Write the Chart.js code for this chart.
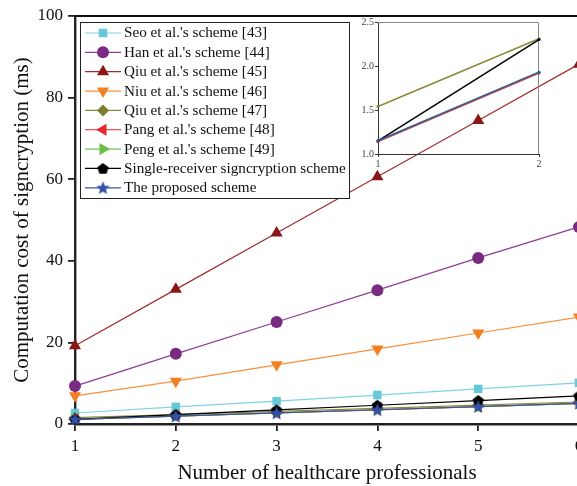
<!DOCTYPE html>
<html>
<head>
<meta charset="utf-8">
<script src="https://cdn.jsdelivr.net/npm/chart.js@4.4.0/dist/chart.umd.min.js"></script>
<style>
  html, body { margin: 0; padding: 0; background: #fff; overflow: hidden; }
  #wrap { position: relative; width: 577px; height: 486px; overflow: hidden; }
  #main { position: absolute; left: 0; top: 0; }
  #inset { position: absolute; left: 340px; top: 10px; }
</style>
</head>
<body>
<div id="wrap">
  <canvas id="main" width="600" height="486"></canvas>
  <canvas id="inset" width="210" height="165"></canvas>
</div>
<script>
// Data
const xLabels = ['1', '2', '3', '4', '5', '6'];
const seo = [2.7, 4.2, 5.6, 7.1, 8.6, 10.1];
const han = [9.3, 17.2, 25.0, 32.8, 40.7, 48.3];
const qiu45 = [19.2, 33.0, 46.8, 60.6, 74.4, 88.2];
const niu = [6.9, 10.5, 14.5, 18.4, 22.3, 26.2];
const qiu47 = [1.54, 2.31, 3.08, 3.85, 4.62, 5.39];
const pang = [1.14, 1.92, 2.70, 3.48, 4.26, 5.04];
const peng = [1.15, 1.93, 2.71, 3.49, 4.27, 5.05];
const single = [1.15, 2.30, 3.45, 4.60, 5.75, 6.90];
const proposed = [1.15, 1.93, 2.71, 3.49, 4.27, 5.05];
const yTicks = [0, 20, 40, 60, 80, 100];
const insetTicks = [1.0, 1.5, 2.0, 2.5];

const SERIF = "'Liberation Serif', 'Times New Roman', serif";

// custom filled markers
function makeMarker(kind, color, size) {
    const c = document.createElement('canvas');
    c.width = size; c.height = size;
    const g = c.getContext('2d');
    const cx = size / 2, cy = size / 2, r = size / 2 - 0.5;
    g.beginPath();
    if (kind === 'pentagon') {
        for (let i = 0; i < 5; i++) {
            const a = -Math.PI / 2 + i * 2 * Math.PI / 5;
            g.lineTo(cx + r * Math.cos(a), cy + r * Math.sin(a) + 0.5);
        }
    } else {
        for (let i = 0; i < 10; i++) {
            const a = -Math.PI / 2 + i * Math.PI / 5;
            const rr = i % 2 === 0 ? r : r * 0.45;
            g.lineTo(cx + rr * Math.cos(a), cy + rr * Math.sin(a) + 0.5);
        }
    }
    g.closePath();
    g.fillStyle = color;
    g.fill();
    return c;
}

const series = [
    { label: "Seo et al.'s scheme [43]", data: seo, line: '#7fd4e2', fill: '#67c8d8', style: 'rect', rot: 0, r: 6 },
    { label: "Han et al.'s scheme [44]", data: han, line: '#8e3d96', fill: '#7a2a83', style: 'circle', rot: 0, r: 6 },
    { label: "Qiu et al.'s scheme [45]", data: qiu45, line: '#a02c2c', fill: '#8a1616', style: 'triangle', rot: 0, r: 7 },
    { label: "Niu et al.'s scheme [46]", data: niu, line: '#f7913d', fill: '#f57f20', style: 'triangle', rot: 180, r: 7 },
    { label: "Qiu et al.'s scheme [47]", data: qiu47, line: '#8a8a3a', fill: '#7d7d2e', style: 'rectRot', rot: 0, r: 6 },
    { label: "Pang et al.'s scheme [48]", data: pang, line: '#e8262c', fill: '#e8262c', style: 'triangle', rot: 270, r: 7 },
    { label: "Peng et al.'s scheme [49]", data: peng, line: '#74c45a', fill: '#6cbf45', style: 'triangle', rot: 90, r: 7 },
    { label: 'Single-receiver signcryption scheme', data: single, line: '#000000', fill: '#000000', style: makeMarker('pentagon', '#000', 13), rot: 0, r: 6 },
    { label: 'The proposed scheme', data: proposed, line: '#3a55a0', fill: '#3451a6', style: makeMarker('star', '#3451a6', 15), rot: 0, r: 7 }
];

const mainDatasets = series.map((s, i) => ({
    label: s.label,
    data: s.data,
    borderColor: s.line,
    backgroundColor: s.fill,
    borderWidth: 1.2,
    pointStyle: s.style,
    pointRotation: s.rot,
    pointRadius: s.r,
    pointBorderWidth: 0,
    pointBackgroundColor: s.fill,
    order: series.length - i
}));

// legend box drawn on the canvas, line + marker like the original
const boxLegend = {
    id: 'boxLegend',
    afterDraw(chart) {
        const ctx = chart.ctx;
        ctx.save();
        ctx.fillStyle = '#fff';
        ctx.strokeStyle = '#222';
        ctx.lineWidth = 1;
        ctx.fillRect(80.5, 22.5, 269, 176);
        ctx.strokeRect(80.5, 22.5, 269, 176);
        ctx.font = '15.2px ' + SERIF;
        ctx.textBaseline = 'middle';
        series.forEach((s, i) => {
            const y = 33 + i * 19.35;
            ctx.strokeStyle = s.line;
            ctx.lineWidth = 1.2;
            ctx.beginPath();
            ctx.moveTo(85, y);
            ctx.lineTo(121, y);
            ctx.stroke();
            ctx.fillStyle = s.fill;
            Chart.helpers.drawPoint(ctx, {
                pointStyle: s.style, rotation: s.rot, radius: s.r, borderWidth: 0
            }, 103, y);
            ctx.fillStyle = '#111';
            ctx.fillText(s.label, 124, y + 0.5);
        });
        ctx.restore();
    }
};

// top frame line
const frame = {
    id: 'frame',
    afterDatasetsDraw(chart) {
        const { ctx, chartArea } = chart;
        ctx.save();
        ctx.strokeStyle = '#111';
        ctx.lineWidth = 1.8;
        ctx.beginPath();
        ctx.moveTo(chartArea.left, chartArea.top);
        ctx.lineTo(chartArea.right, chartArea.top);
        ctx.lineTo(chartArea.right, chartArea.bottom);
        ctx.stroke();
        ctx.restore();
    }
};

new Chart(document.getElementById('main'), {
    type: 'line',
    data: { labels: xLabels, datasets: mainDatasets },
    options: {
        responsive: false,
        animation: false,
        layout: { padding: { top: 16, right: 21, left: 0, bottom: 0 } },
        plugins: { legend: { display: false }, tooltip: { enabled: false } },
        scales: {
            x: {
                offset: false,
                grid: { drawOnChartArea: false, color: '#222', tickLength: 7, lineWidth: 1.8 },
                border: { color: '#222', width: 2.4 },
                ticks: { color: '#111', font: { family: SERIF, size: 17 }, padding: 5, maxRotation: 0 },
                title: { display: true, text: 'Number of healthcare professionals', color: '#111', font: { family: SERIF, size: 21 }, padding: { top: 0, bottom: 0 } },
                afterFit: s => { s.height = 62; }
            },
            y: {
                min: 0, max: 100,
                afterBuildTicks: s => { s.ticks = yTicks.map(v => ({ value: v })); },
                grid: { drawOnChartArea: false, color: '#222', tickLength: 7, lineWidth: 1.8 },
                border: { color: '#222', width: 2.4 },
                ticks: { color: '#111', font: { family: SERIF, size: 17 }, padding: 5 },
                title: { display: true, text: 'Computation cost of signcryption (ms)', color: '#111', font: { family: SERIF, size: 21 }, padding: { top: 10, bottom: 0 } },
                afterFit: s => { s.width = 75; }
            }
        }
    },
    plugins: [frame, boxLegend]
});

// inset: zoom on x = 1..2
const insetFrame = {
    id: 'insetFrame',
    beforeDatasetsDraw(chart) {
        const { ctx, chartArea } = chart;
        ctx.save();
        ctx.strokeStyle = '#888';
        ctx.lineWidth = 1;
        ctx.beginPath();
        ctx.moveTo(chartArea.left, chartArea.top + 0.5);
        ctx.lineTo(chartArea.right - 0.5, chartArea.top + 0.5);
        ctx.lineTo(chartArea.right - 0.5, chartArea.bottom);
        ctx.stroke();
        ctx.restore();
    }
};

new Chart(document.getElementById('inset'), {
    type: 'line',
    data: {
        labels: xLabels.slice(0, 2),
        datasets: series.map((s, i) => ({
            data: s.data.slice(0, 2),
            borderColor: s.line,
            backgroundColor: s.fill,
            borderWidth: 1.5,
            pointRadius: 1.5,
            pointBorderWidth: 0,
            pointBackgroundColor: s.fill,
            order: series.length - i
        }))
    },
    options: {
        responsive: false,
        animation: false,
        layout: { padding: { top: 12, right: 11 } },
        plugins: { legend: { display: false }, tooltip: { enabled: false } },
        scales: {
            x: {
                offset: false,
                grid: { drawOnChartArea: false, color: '#333', tickLength: 3 },
                border: { color: '#333', width: 1 },
                ticks: { color: '#444', font: { family: SERIF, size: 10 }, padding: 1, maxRotation: 0 },
                afterFit: s => { s.height = 21; }
            },
            y: {
                min: 1, max: 2.5,
                afterBuildTicks: s => { s.ticks = insetTicks.map(v => ({ value: v })); },
                grid: { drawOnChartArea: false, color: '#333', tickLength: 3 },
                border: { color: '#333', width: 1 },
                ticks: { color: '#444', font: { family: SERIF, size: 10 }, padding: 1, callback: v => v.toFixed(1) },
                afterFit: s => { s.width = 38; }
            }
        }
    },
    plugins: [insetFrame]
});
</script>
</body>
</html>
